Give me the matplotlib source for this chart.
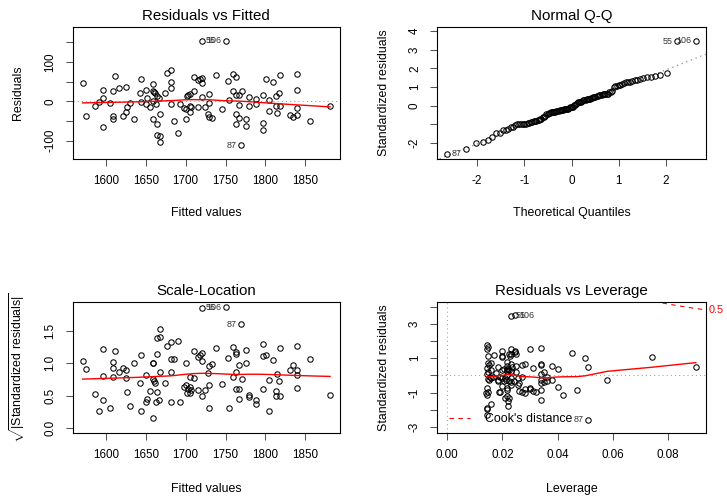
import numpy as np
import matplotlib
matplotlib.use("Agg")
import matplotlib.pyplot as plt
from matplotlib.lines import Line2D
from statistics import NormalDist

# ---------------- data ----------------
fitted = [1571, 1575, 1587, 1591, 1597, 1597, 1597, 1605, 1609, 1609,
          1609, 1612, 1617, 1625, 1621, 1625, 1627, 1630, 1635, 1644,
          1643, 1644, 1651, 1652, 1650, 1656, 1659, 1659, 1660, 1662,
          1659, 1664, 1663, 1664, 1664, 1668, 1668, 1668, 1667, 1674,
          1677, 1682, 1682, 1682, 1682, 1685, 1690, 1693, 1698, 1700,
          1702, 1703, 1706, 1700, 1705, 1707, 1706, 1711, 1711, 1715,
          1715, 1718, 1720, 1721, 1720, 1724, 1729, 1729, 1728, 1729,
          1733, 1738, 1746, 1753, 1754, 1759, 1763, 1759, 1763, 1767,
          1771, 1767, 1763, 1767, 1763, 1776, 1776, 1780, 1780, 1788,
          1788, 1797, 1797, 1797, 1801, 1805, 1805, 1809, 1813, 1817,
          1818, 1813, 1818, 1814, 1831, 1835, 1839, 1839, 1839, 1839,
          1856, 1881, 1770, 1720, 1751, 1659]

residuals = [46, -37, -12, -3, 28, 8, -65, -4, 27, -38,
             -46, 63, 33, 35, -38, -26, -14, -5, -44, 56,
             21, -3, 29, 9, -7, -14, 44, 25, 23, 21,
             -44, 14, -7, -58, -85, -88, -103, -33, 8, 21,
             72, 79, 50, 33, -7, -50, -80, -7, -18, -44,
             13, 16, 18, -19, -13, -15, -27, 26, 62, -15,
             53, 56, 58, 47, 11, -15, -4, 19, -32, -41,
             -43, 67, -20, 51, 4, 69, 61, 27, 16, 16,
             25, -9, -33, -42, -58, -44, -63, 10, -11, 6,
             -8, 16, -54, -74, 56, 3, -24, 49, 14, 22,
             67, -11, -11, -30, -35, -41, -35, 70, 29, -17,
             -50, -11, -112, 153, 154, 1]

leverage = [0.074, 0.0215, 0.034, 0.027, 0.034, 0.0148, 0.022, 0.0155, 0.015, 0.034,
            0.0142, 0.0245, 0.016, 0.0215, 0.047, 0.023, 0.0185, 0.019, 0.0146, 0.025,
            0.0185, 0.036, 0.023, 0.025, 0.021, 0.0225, 0.050, 0.025, 0.0215, 0.051,
            0.028, 0.016, 0.0255, 0.0225, 0.0145, 0.0143, 0.0143, 0.0145, 0.035, 0.0235,
            0.0148, 0.0145, 0.0148, 0.0146, 0.020, 0.0145, 0.022, 0.016, 0.023, 0.0188,
            0.020, 0.0218, 0.0145, 0.034, 0.0212, 0.0205, 0.020, 0.034, 0.020, 0.036,
            0.017, 0.0232, 0.045, 0.020, 0.0215, 0.024, 0.0165, 0.031, 0.030, 0.026,
            0.027, 0.0145, 0.026, 0.020, 0.034, 0.023, 0.0245, 0.027, 0.040, 0.022,
            0.038, 0.0147, 0.0215, 0.032, 0.021, 0.019, 0.034, 0.023, 0.038, 0.0175,
            0.0232, 0.0205, 0.0218, 0.016, 0.0222, 0.0145, 0.0255, 0.0228, 0.0222, 0.090,
            0.030, 0.0185, 0.0152, 0.040, 0.028, 0.031, 0.030, 0.034, 0.028, 0.035,
            0.042, 0.058, 0.051, 0.023, 0.0245, 0.0215]

id_index = [112, 113, 114]
id_labels = ["87", "55", "106"]

sigma = 44.7          # residual standard error
n_params = 3          # model parameters
cook_levels = [0.5, 1.0]

# ---------------- helpers ----------------
fitted = np.array(fitted, float)
residuals = np.array(residuals, float)
leverage = np.array(leverage, float)
n = len(fitted)
std_res = residuals / (sigma * np.sqrt(1 - leverage))


def lowess(x, y, f=2 / 3, iters=3):
    order = np.argsort(x, kind="mergesort")
    xs = np.asarray(x, float)[order]
    ys = np.asarray(y, float)[order]
    m = len(xs)
    ns = max(min(int(f * m + 1e-7), m), 2)
    rw = np.ones(m)
    fit = np.zeros(m)
    for it in range(iters + 1):
        for i in range(m):
            d = np.abs(xs - xs[i])
            h = max(np.sort(d)[ns - 1], 1e-12)
            u = d / h
            w = np.where(u <= 0.001, 1.0, np.where(u < 0.999, (1 - u ** 3) ** 3, 0.0)) * rw
            sw = w.sum()
            if sw <= 0:
                fit[i] = ys[i]
                continue
            xm = (w * xs).sum() / sw
            ym = (w * ys).sum() / sw
            sxx = (w * (xs - xm) ** 2).sum()
            if np.sqrt(sxx / sw) > 0.001 * (xs[-1] - xs[0]):
                b = (w * (xs - xm) * (ys - ym)).sum() / sxx
                fit[i] = ym + b * (xs[i] - xm)
            else:
                fit[i] = ym
        if it == iters:
            break
        res = ys - fit
        cm = 6 * np.median(np.abs(res))
        if cm == 0:
            break
        u = np.abs(res) / cm
        rw = np.where(u <= 0.001, 1.0, np.where(u < 0.999, (1 - u ** 2) ** 2, 0.0))
    return xs, fit


def ext(lo, hi, f):
    d = hi - lo
    return lo - f * d, hi + f * d


plt.rcParams["font.family"] = ["Liberation Sans", "DejaVu Sans"]
plt.rcParams["mathtext.fontset"] = "custom"
plt.rcParams["mathtext.rm"] = "Liberation Sans"
plt.rcParams["mathtext.it"] = "Liberation Sans:italic"

W, H = 727, 498
fig = plt.figure(figsize=(W / 100, H / 100), dpi=100)


def rect(l, t, r, b):
    return [l / W, 1 - b / H, (r - l) / W, (b - t) / H]


ax1 = fig.add_axes(rect(72.7, 27.3, 340.0, 158.7))
ax2 = fig.add_axes(rect(437.3, 27.3, 705.7, 158.7))
ax3 = fig.add_axes(rect(72.7, 302.3, 340.0, 432.7))
ax4 = fig.add_axes(rect(437.3, 302.3, 705.7, 432.7))

TICK_FS = 8.4
LAB_FS = 8.9
TITLE_FS = 10.9
ID_FS = 6.4
PT_KW = dict(ls="none", marker="o", ms=3.9, mfc="none", mec="black", mew=0.75)
DOT = (1, 3)


def style(ax, title, xlabel, ylabel, xt, xtl, yt, ytl, xlab_off, ylab_off):
    for s in ax.spines.values():
        s.set_linewidth(0.8)
    ax.set_xticks(xt, xtl)
    ax.set_yticks(yt, ytl)
    ax.tick_params(direction="out", length=5.0, width=0.75, color="#555555",
                   labelsize=TICK_FS, pad=6.8)
    ax.tick_params(axis="y", labelrotation=90)
    for t in ax.get_yticklabels():
        t.set_va("center")
    ax.set_title(title, fontsize=TITLE_FS, pad=5.0)
    ax.set_xlabel(xlabel, fontsize=LAB_FS, va="center")
    ax.set_ylabel(ylabel, fontsize=LAB_FS, va="center")
    bb = ax.get_position()
    ax.xaxis.set_label_coords(0.5, -xlab_off / (bb.height * H))
    ax.yaxis.set_label_coords(-ylab_off / (bb.width * W), 0.5)


def label_points(ax, xs, ys, xlim):
    mid = 0.5 * (xlim[0] + xlim[1])
    for idx, lab in zip(id_index, id_labels):
        x, y = xs[idx], ys[idx]
        if x > mid:
            ax.annotate(lab, (x, y), xytext=(-3.3, 0), textcoords="offset points",
                        ha="right", va="center", fontsize=ID_FS, color="#333333")
        else:
            ax.annotate(lab, (x, y), xytext=(3.3, 0), textcoords="offset points",
                        ha="left", va="center", fontsize=ID_FS, color="#333333")


# ---------------- 1. Residuals vs Fitted ----------------
xlim1 = ext(fitted.min(), fitted.max(), 0.04)
yl = ext(residuals.min(), residuals.max(), 0.08)
ylim1 = ext(yl[0], yl[1], 0.04)
ax1.axhline(0, color="#a0a0a0", lw=0.75, dashes=DOT)
ax1.plot(fitted, residuals, **PT_KW)
sx, sy = lowess(fitted, residuals)
ax1.plot(sx, sy, color="red", lw=1.0)
ax1.set_xlim(xlim1)
ax1.set_ylim(ylim1)
label_points(ax1, fitted, residuals, xlim1)
style(ax1, "Residuals vs Fitted", "Fitted values", "Residuals",
      [1600, 1650, 1700, 1750, 1800, 1850], ["1600", "1650", "1700", "1750", "1800", "1850"],
      [-100, -50, 0, 50, 100, 150], ["-100", "", "0", "", "100", ""], 54.6, 54.7)

# ---------------- 2. Normal Q-Q ----------------
nd = NormalDist()
order = np.argsort(std_res, kind="mergesort")
theo = np.array([nd.inv_cdf((i + 0.5) / n) for i in range(n)])
qq_x = np.empty(n)
qq_x[order] = theo
ys = std_res
q1, q3 = np.quantile(ys, [0.25, 0.75])
t1, t3 = nd.inv_cdf(0.25), nd.inv_cdf(0.75)
slope = (q3 - q1) / (t3 - t1)
icpt = q1 - slope * t1
xlim2 = ext(theo.min(), theo.max(), 0.04)
yr = [ys.min(), ys.max()]
yr[1] = yr[1] + 0.075 * (yr[1] - yr[0])
ylim2 = ext(yr[0], yr[1], 0.04)
ax2.axline((0, icpt), slope=slope, color="#8c8c8c", lw=0.9, dashes=DOT)
ax2.plot(qq_x, ys, **PT_KW)
ax2.set_xlim(xlim2)
ax2.set_ylim(ylim2)
label_points(ax2, qq_x, ys, xlim2)
style(ax2, "Normal Q-Q", "Theoretical Quantiles", "Standardized residuals",
      [-2, -1, 0, 1, 2], ["-2", "-1", "0", "1", "2"],
      [-2, -1, 0, 1, 2, 3, 4], ["-2", "", "0", "1", "2", "3", "4"], 54.6, 53.3)

# ---------------- 3. Scale-Location ----------------
sq = np.sqrt(np.abs(std_res))
ylim3 = ext(0, sq.max(), 0.04)
ax3.plot(fitted, sq, **PT_KW)
sx, sy = lowess(fitted, sq)
ax3.plot(sx, sy, color="red", lw=1.0)
ax3.set_xlim(xlim1)
ax3.set_ylim(ylim3)
label_points(ax3, fitted, sq, xlim1)
style(ax3, "Scale-Location", "Fitted values",
      r"$\sqrt{|\mathrm{Standardized\ residuals}|}$",
      [1600, 1650, 1700, 1750, 1800, 1850], ["1600", "1650", "1700", "1750", "1800", "1850"],
      [0.0, 0.5, 1.0, 1.5], ["0.0", "0.5", "1.0", "1.5"], 56.6, 56.0)

# ---------------- 4. Residuals vs Leverage ----------------
xlim4 = ext(0, leverage.max(), 0.04)
yl = ext(std_res.min(), std_res.max(), 0.08)
ylim4 = ext(yl[0], yl[1], 0.04)
ax4.axhline(0, color="#a0a0a0", lw=0.75, dashes=DOT)
ax4.axvline(0, color="#a0a0a0", lw=0.75, dashes=DOT)
ax4.plot(leverage, std_res, **PT_KW)
sx, sy = lowess(leverage, std_res)
ax4.plot(sx, sy, color="red", lw=1.0)
hh = np.linspace(min(leverage.min(), leverage.max() / 100), xlim4[1], 101)
for cl in cook_levels:
    ch = np.sqrt(cl * n_params * (1 - hh) / hh)
    ax4.plot(hh, ch, color="red", lw=0.8, dashes=(4, 4))
    ax4.plot(hh, -ch, color="red", lw=0.8, dashes=(4, 4))
    ya = np.sqrt(cl * n_params * (1 - xlim4[1]) / xlim4[1])
    for yv in (ya, -ya):
        if ylim4[0] <= yv <= ylim4[1]:
            ax4.annotate(f"{cl:g}", (xlim4[1], yv), xytext=(2.4, 0),
                         textcoords="offset points", ha="left", va="center",
                         fontsize=7.8, color="red", annotation_clip=False)
ax4.set_xlim(xlim4)
ax4.set_ylim(ylim4)
label_points(ax4, leverage, std_res, xlim4)
style(ax4, "Residuals vs Leverage", "Leverage", "Standardized residuals",
      [0.0, 0.02, 0.04, 0.06, 0.08], ["0.00", "0.02", "0.04", "0.06", "0.08"],
      [-3, -2, -1, 0, 1, 2, 3, 4], ["-3", "", "-1", "", "1", "", "3", ""], 56.6, 53.3)
ax4.legend(handles=[Line2D([], [], color="red", lw=0.8, dashes=(4, 4))],
           labels=["Cook's distance"], loc="lower left",
           bbox_to_anchor=(0.045, 0.06), frameon=False, borderpad=0,
           borderaxespad=0, handlelength=1.63, handletextpad=1.28, fontsize=LAB_FS)

fig.savefig("out.png", dpi=100)
